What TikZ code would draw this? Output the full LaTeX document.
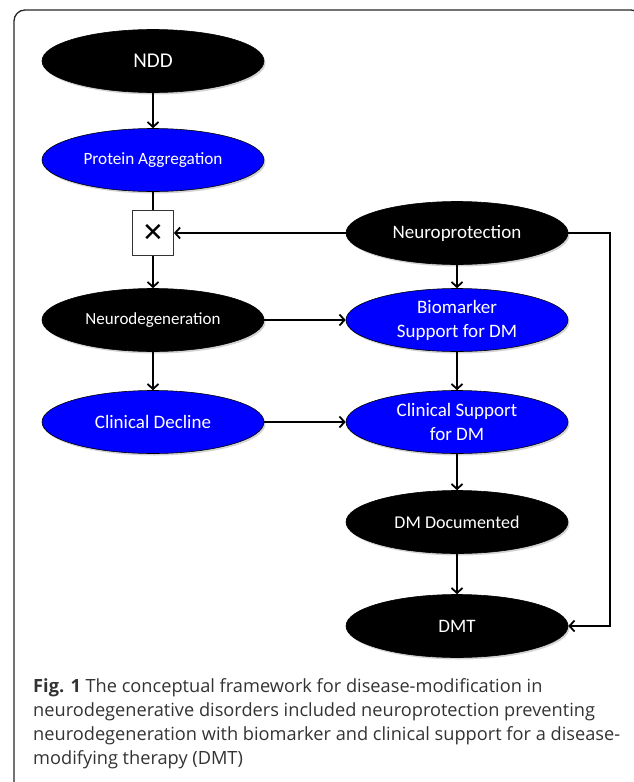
\documentclass[tikz,border=0pt]{standalone}
\usepackage{fontspec}
\setmainfont{Open Sans}
\newfontfamily\boxfont{Carlito}
\newfontfamily\symfont{DejaVu Sans}
\usetikzlibrary{arrows.meta,shapes.geometric,shadows}

\begin{document}
\begin{tikzpicture}[x=1pt,y=1pt,->,>={Straight Barb[length=5pt,width=11pt]},line width=1.8pt,
  dark node/.style={ellipse,draw=black,line width=0.6pt,fill=black,text=white,minimum width=222pt,minimum height=63pt,inner sep=0pt,align=center,font=\boxfont\fontsize{19}{24}\selectfont,drop shadow={shadow xshift=1.5pt,shadow yshift=-2pt,opacity=0.35}},
  blue node/.style={dark node,fill=blue},
  block node/.style={rectangle,draw=black!80,line width=0.8pt,fill=white,minimum width=41pt,minimum height=45pt,inner sep=0pt,font=\symfont\fontsize{26}{26}\selectfont}]

  \useasboundingbox (0,0) rectangle (633,-782);
  \draw[-,line width=1.3pt,draw=black!85,rounded corners=11pt] (14,-800) -- (14,-10) -- (642,-10) -- (642,-800);

  \node[dark node,font=\boxfont\fontsize{21}{24}\selectfont] (ndd) at (153,-61) {NDD};
  \node[blue node,font=\boxfont\fontsize{17.2}{20}\selectfont] (prot) [below of=ndd,node distance=99pt] {Protein Aggregation};
  \node[block node] (block) [below of=prot,node distance=73pt] {✕};
  \node[dark node,font=\boxfont\fontsize{17}{20}\selectfont] (neurodeg) [below of=block,node distance=87pt] {Neurodegeneration};
  \node[blue node] (decline) [below of=neurodeg,node distance=102pt] {Clinical Decline};
  \node[dark node] (neuroprot) [right of=block,node distance=304pt] {Neuroprotection};
  \node[blue node] (bio) [below of=neuroprot,node distance=87pt] {Biomarker\\Support for DM};
  \node[blue node] (clinsup) [below of=bio,node distance=102pt] {Clinical Support\\for DM};
  \node[dark node,font=\boxfont\fontsize{18}{22}\selectfont] (dmdoc) [below of=clinsup,node distance=100pt] {DM Documented};
  \node[dark node] (dmt) [below of=dmdoc,node distance=104pt] {DMT};

  \path
       (ndd) edge (prot)
       (prot) edge[-] (block)
       (block) edge (neurodeg)
       (neurodeg) edge (decline)
       (neuroprot) edge (block)
       (neuroprot) edge (bio)
       (neurodeg) edge (bio)
       (bio) edge (clinsup)
       (decline) edge (clinsup)
       (clinsup) edge (dmdoc)
       (dmdoc) edge (dmt);
  \draw (neuroprot.east) -- ++(42pt,0) |- (dmt.east);

  \node[anchor=base west,align=left,text=black!80,font=\fontsize{18.2}{24}\selectfont] (caption) at (29,-764)
    {\textbf{Fig. 1} The conceptual framework for disease-modification in\\
     neurodegenerative disorders included neuroprotection preventing\\
     neurodegeneration with biomarker and clinical support for a disease-\\
     modifying therapy (DMT)};
\end{tikzpicture}
\end{document}
